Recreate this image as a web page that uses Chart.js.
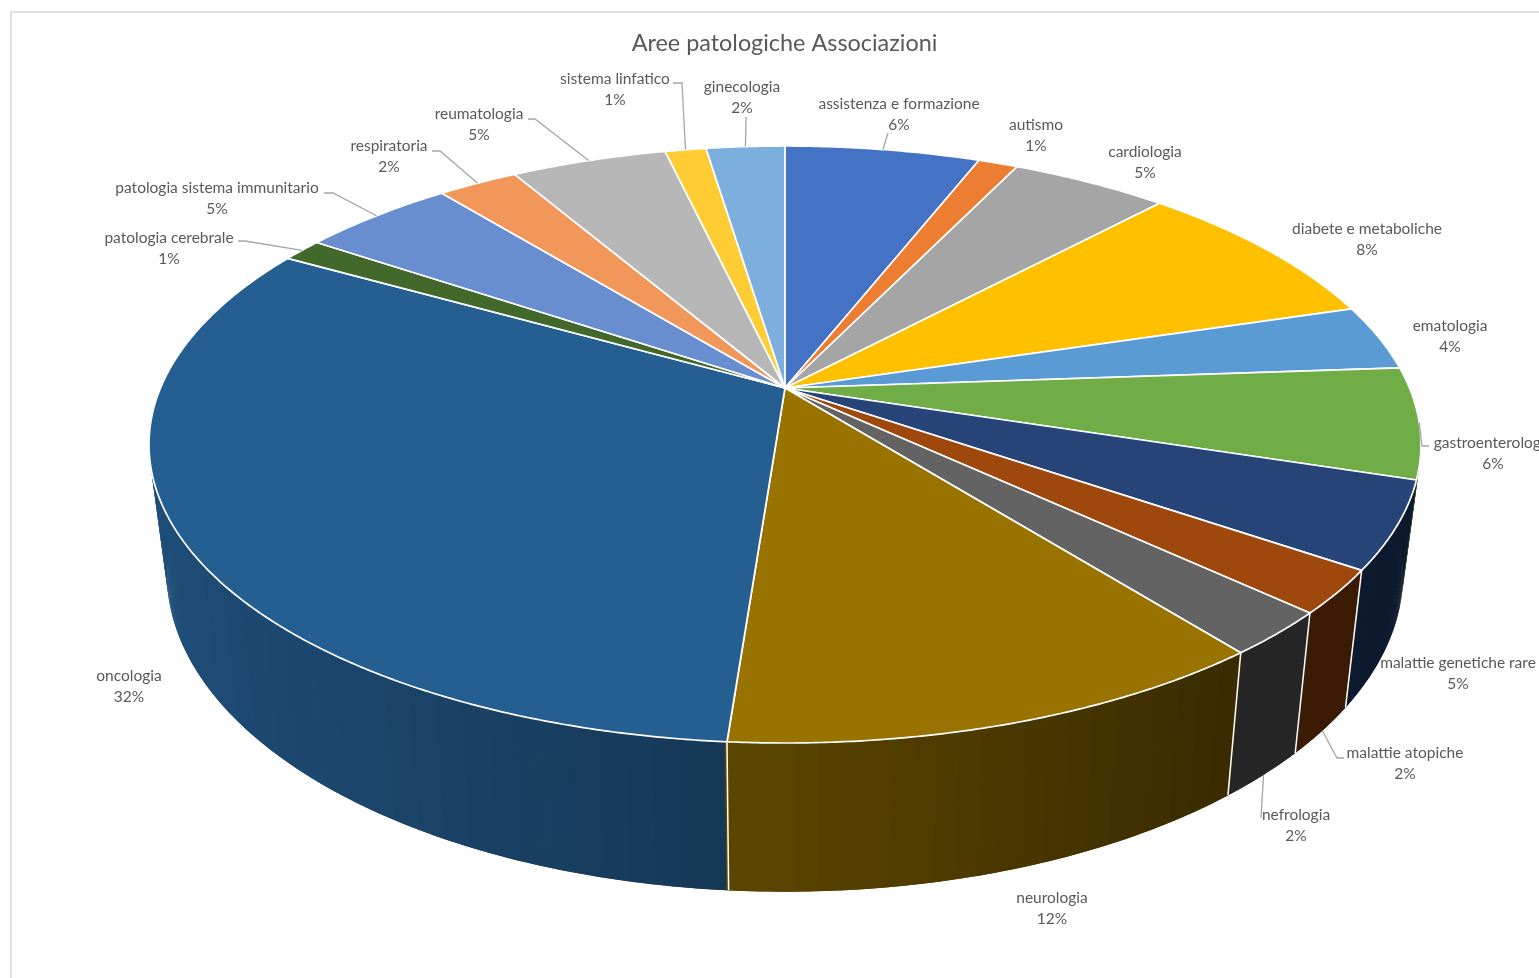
<!DOCTYPE html>
<html>
<head>
<meta charset="utf-8">
<title>Aree patologiche Associazioni</title>
<script src="https://cdn.jsdelivr.net/npm/chart.js@4"></script>
<style>
html,body{margin:0;background:#fff;overflow:hidden;height:100%}
#frame{position:absolute;left:10px;top:11px;width:1700px;height:1100px;border:2px solid #e0e0e0}
#pie{position:absolute;left:0;top:0}
</style>
</head>
<body>
<div id="frame"></div>
<canvas id="pie" width="1569" height="978"></canvas>
<script>
const categories=["assistenza e formazione","autismo","cardiologia","diabete e metaboliche","ematologia","gastroenterologia","malattie genetiche rare","malattie atopiche","nefrologia","neurologia","oncologia","patologia cerebrale","patologia sistema immunitario","respiratoria","reumatologia","sistema linfatico","ginecologia"];
const shares=[5.95,1.21,4.8,8.35,3.55,6,4.7,2.35,2.4,11.87,31.98,1.25,4.7,2.45,4.75,1.25,2.4];
const colours=["#4472C4","#ED7D31","#A5A5A5","#FFC000","#5B9BD5","#70AD47","#264478","#9E480E","#636363","#997300","#255E91","#43682B","#698ED0","#F1975A","#B7B7B7","#FFCD33","#7CAFDD"];

// where each label sits (centre x, y of first line), same order as categories
const labelSpots=[[899,104],[1036,125],[1145,152],[1367,229],[1450,326],[1493,443],[1458,663],[1405,753],[1296,815],[1052,898],[129,676],[169,238],[217,188],[389,146],[479,114],[615,79],[742,87]];
// leader bends by category index, the last point is taken from the slice
const leaders={
 0:{via:[[888,133]],rim:"top"},
 5:{via:[[1429,446],[1422,446]],rim:"top"},
 7:{via:[[1344,758],[1337,758]],rim:"bottom"},
 8:{via:[[1261,818]],rim:"bottom"},
 11:{via:[[238,241],[245,241]],rim:"top"},
 12:{via:[[324,193],[333,193]],rim:"top"},
 13:{via:[[432,151],[440,151]],rim:"top"},
 14:{via:[[528,119],[535,119]],rim:"top"},
 15:{via:[[673,83],[682,83]],rim:"top"},
 16:{via:[[746,117]],rim:"top"}
};

// perspective of the top and bottom discs
const topDisc={cx:785,cy:388,a:624.5,b:287.8,w:-0.1893};
const botDisc={cx:785,cy:513,a:607,b:307,w:-0.1893};
function project(d,ang){
 const X=Math.cos(ang),Y=Math.sin(ang),k=1+d.w*Y;
 return [d.cx+d.a*X/k,d.cy+d.b*Y/k];
}
function wallShade(hex,ang){
 const X=Math.cos(ang);
 let f=X<0?0.58-0.27*X:0.58-0.33*X;
 if(f<0.38)f=0.38;
 f=Math.round(f*100)/100;
 const n=parseInt(hex.slice(1),16);
 return `rgb(${Math.round((n>>16)*f)},${Math.round(((n>>8)&255)*f)},${Math.round((n&255)*f)})`;
}

const pie3d={
 id:"pie3d",
 beforeDatasetsDraw(chart){
  const ctx=chart.ctx,arcs=chart.getDatasetMeta(0).data,step=0.006;
  ctx.save();
  ctx.lineJoin="round";
  // side wall, back strips first so the nearer ones cover the joins
  let strips=[];
  arcs.forEach(el=>{
   const col=el.options.backgroundColor;
   for(let t=el.startAngle;t<el.endAngle;t+=step){
    if(Math.sin(t)>-0.3)strips.push([t,Math.min(t+step,el.endAngle),col]);
   }
  });
  strips.sort((p,q)=>Math.sin(p[0])-Math.sin(q[0]));
  strips.forEach(([t,t2,col])=>{
   const pad=step*0.5;
   const a=project(topDisc,t-pad),b=project(topDisc,t2+pad),c=project(botDisc,t2+pad),d=project(botDisc,t-pad);
   ctx.fillStyle=wallShade(col,t);
   ctx.beginPath();
   ctx.moveTo(a[0],a[1]);ctx.lineTo(b[0],b[1]);ctx.lineTo(c[0],c[1]);ctx.lineTo(d[0],d[1]);ctx.closePath();
   ctx.fill();
  });
  // white seams between wall pieces
  ctx.strokeStyle="#fff";
  ctx.lineWidth=1.5;
  arcs.forEach(el=>{
   if(Math.sin(el.endAngle)>0.45){
    const a=project(topDisc,el.endAngle),b=project(botDisc,el.endAngle);
    ctx.beginPath();ctx.moveTo(a[0],a[1]);ctx.lineTo(b[0],b[1]);ctx.stroke();
   }
  });
  // top face
  arcs.forEach(el=>{
   ctx.beginPath();
   ctx.moveTo(topDisc.cx,topDisc.cy);
   for(let t=el.startAngle;t<el.endAngle;t+=step){
    const p=project(topDisc,t);ctx.lineTo(p[0],p[1]);
   }
   const e=project(topDisc,el.endAngle);ctx.lineTo(e[0],e[1]);
   ctx.closePath();
   ctx.fillStyle=el.options.backgroundColor;
   ctx.fill();
   ctx.strokeStyle="#fff";ctx.lineWidth=1.7;
   ctx.stroke();
  });
  ctx.restore();
  return false;
 },
 afterDraw(chart){
  const ctx=chart.ctx,arcs=chart.getDatasetMeta(0).data;
  const total=shares.reduce((s,v)=>s+v,0);
  ctx.save();
  ctx.strokeStyle="#a6a6a6";ctx.lineWidth=1.3;
  Object.keys(leaders).forEach(i=>{
   const l=leaders[i],el=arcs[i],mid=(el.startAngle+el.endAngle)/2;
   const end=project(l.rim=="top"?topDisc:botDisc,mid);
   ctx.beginPath();
   l.via.forEach((p,n)=>n?ctx.lineTo(p[0],p[1]):ctx.moveTo(p[0],p[1]));
   ctx.lineTo(end[0],end[1]);
   ctx.stroke();
  });
  ctx.fillStyle="#595959";
  ctx.font="15.5px Lato";
  ctx.textAlign="center";ctx.textBaseline="middle";
  categories.forEach((name,i)=>{
   const [x,y]=labelSpots[i];
   ctx.fillText(name,x,y);
   ctx.fillText(Math.round(shares[i]/total*100)+"%",x,y+20.5);
  });
  ctx.restore();
 }
};

new Chart(document.getElementById("pie"),{
 type:"pie",
 data:{labels:categories,datasets:[{data:shares,backgroundColor:colours,borderWidth:0}]},
 options:{
  responsive:false,
  animation:false,
  plugins:{
   legend:{display:false},
   tooltip:{enabled:false},
   title:{display:true,text:"Aree patologiche Associazioni",color:"#595959",font:{family:"Lato",size:23.4,weight:"normal"},padding:{top:29,bottom:10}}
  }
 },
 plugins:[pie3d]
});
</script>
</body>
</html>
